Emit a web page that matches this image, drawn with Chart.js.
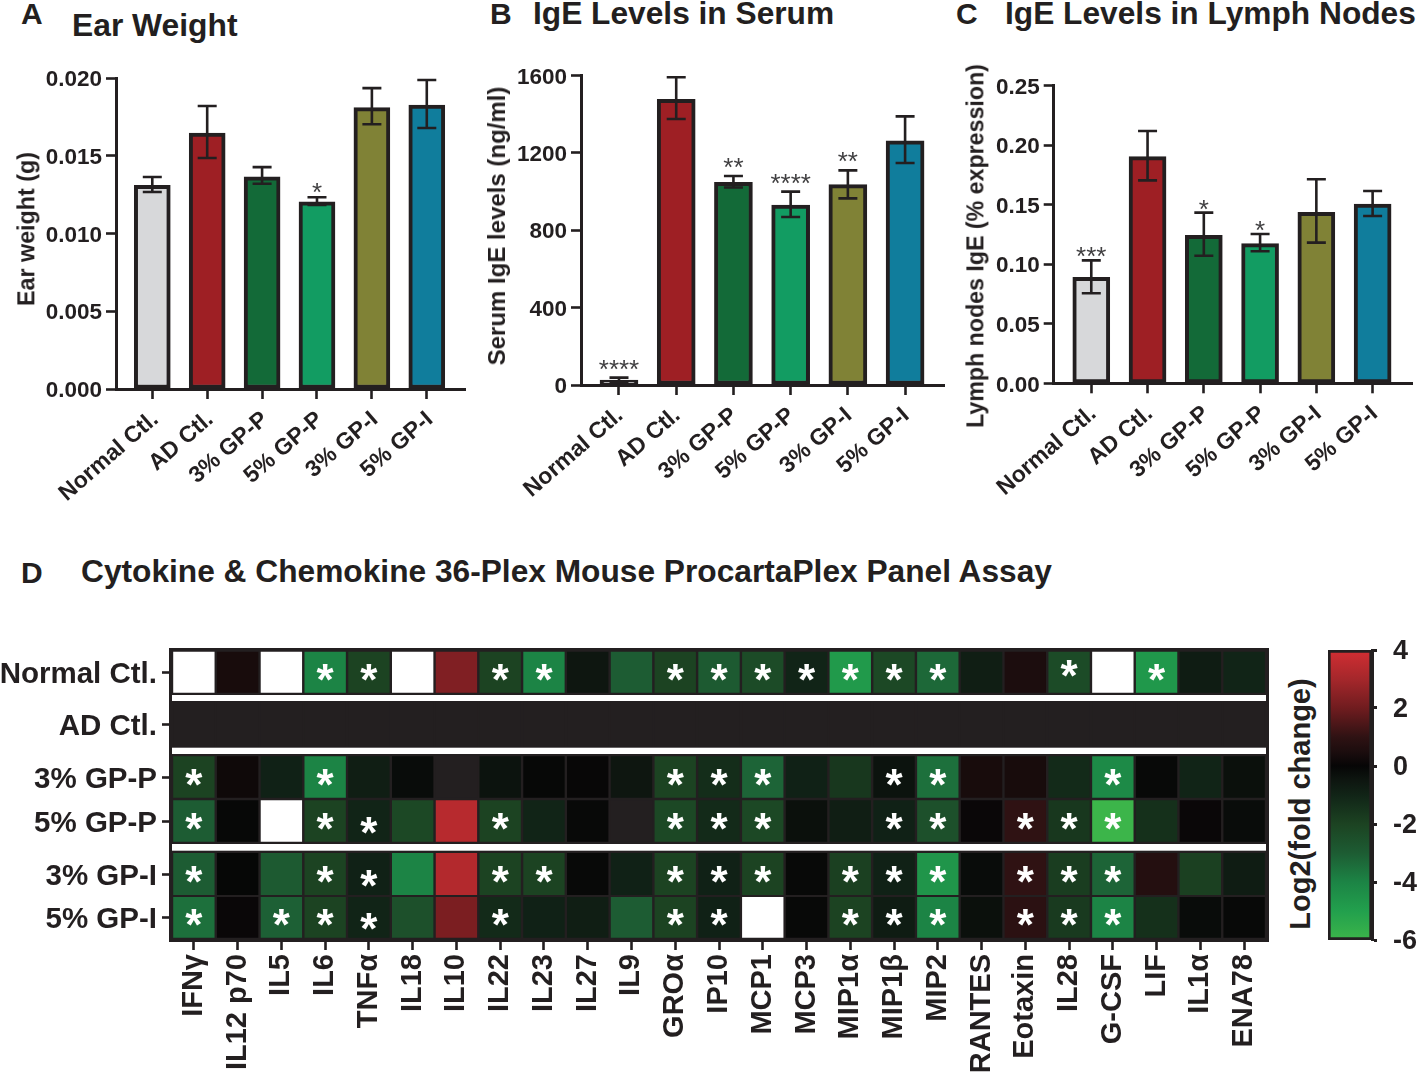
<!DOCTYPE html>
<html>
<head>
<meta charset="utf-8">
<title>Cytokine panel figure</title>
<script src="https://cdn.jsdelivr.net/npm/chart.js@4"></script>
<style>
  html, body { margin: 0; background: #fff; overflow: hidden; }
  #page { position: relative; width: 1417px; height: 1073px; }
  canvas { position: absolute; }
  .txt { position: absolute; white-space: nowrap; color: #231f20; font-family: "Liberation Sans", Arial, sans-serif; font-weight: bold; line-height: 1; }
</style>
</head>
<body>
<div id="page"></div>
<script>
// ---- data ----
const groups = ['Normal Ctl.', 'AD Ctl.', '3% GP-P', '5% GP-P', '3% GP-I', '5% GP-I'];
const barColors = ['#d7d8da', '#9e1f24', '#136a38', '#129c62', '#808236', '#107d9c'];

const earWeight = [0.0131, 0.01646, 0.01365, 0.01204, 0.0181, 0.01826];
const earHigh = [0.01363, 0.0182, 0.01427, 0.01233, 0.01935, 0.01987];
const earLow = [0.01267, 0.01486, 0.0132, 0.01183, 0.01703, 0.01678];
const earSig = ['', '', '', '*', '', ''];
const earTicks = [0, 0.005, 0.01, 0.015, 0.02];

const serum = [26, 1476, 1047, 930, 1035, 1262];
const serumHigh = [38, 1590, 1080, 999, 1109, 1388];
const serumLow = [15, 1374, 1020, 868, 964, 1147];
const serumSig = ['****', '', '**', '****', '**', ''];
const serumTicks = [0, 400, 800, 1200, 1600];

const nodes = [0.089, 0.1904, 0.1243, 0.1173, 0.1436, 0.1506];
const nodesHigh = [0.1033, 0.2119, 0.1434, 0.1254, 0.1714, 0.1616];
const nodesLow = [0.0756, 0.1705, 0.1072, 0.1109, 0.1182, 0.1406];
const nodesSig = ['***', '', '*', '*', '', ''];
const nodesTicks = [0, 0.05, 0.1, 0.15, 0.2, 0.25];

const cytokines = ['IFNγ', 'IL12 p70', 'IL5', 'IL6', 'TNFα', 'IL18', 'IL10', 'IL22', 'IL23', 'IL27', 'IL9', 'GROα', 'IP10',
  'MCP1', 'MCP3', 'MIP1α', 'MIP1β', 'MIP2', 'RANTES', 'Eotaxin', 'IL28', 'G-CSF', 'LIF', 'IL1α', 'ENA78'];

// log2 fold change against AD Ctl., null = white cell
const heatNormal = [null, .4, null, -4, -2, null, 2.3, -2, -4, -.5, -3, -2, -2.9, -2.3, -1, -4.8, -2.2, -3.3, -.8, .5, -2.3, null, -4.7, -.7, -1];
const heatAd = [0, 0, 0, 0, 0, 0, 0, 0, 0, 0, 0, 0, 0, 0, 0, 0, 0, 0, 0, 0, 0, 0, 0, 0, 0];
const heatP3 = [-2, .2, -.9, -4, -.8, -.2, 0, -.4, -.05, .05, -.5, -2, -1.3, -3.2, -.9, -1.6, -.4, -3.5, .4, .4, -1.2, -4.2, -.1, -1, -.3];
const heatP5 = [-3, -.05, null, -2, -1, -2.2, 3.4, -2, -1, -.1, 0, -2.2, -1.2, -2.2, -.3, -.8, -.9, -2.5, .1, 1, -1.6, -6, -1.4, .1, -.2];
const heatI3 = [-3, -.02, -2.9, -2, -.9, -4, 3.3, -2, -2, -.1, -.9, -2, -.9, -2, -.1, -1.9, -.9, -4.6, -.2, 1, -1.8, -3.2, .7, -1.9, -.7];
const heatI5 = [-3.5, .1, -3.1, -2, -1, -2.5, 2.2, -1.2, -.9, -.8, -3, -2, -.9, null, -.1, -2, -.7, -4, -.3, .9, -1.7, -4, -1.4, -.2, -.1];
const heatRows = [heatNormal, heatAd, heatP3, heatP5, heatI3, heatI5];

// columns carrying a significance star, per row
const starNormal = [3, 4, 7, 8, 11, 12, 13, 14, 15, 16, 17, 20, 22];
const starAd = [];
const starP3 = [0, 3, 11, 12, 13, 16, 17, 21];
const starP5 = [0, 3, 4, 7, 11, 12, 13, 16, 17, 19, 20, 21];
const starI3 = [0, 3, 4, 7, 8, 11, 12, 13, 15, 16, 17, 19, 20, 21];
const starI5 = [0, 2, 3, 4, 7, 11, 12, 15, 16, 17, 19, 20, 21];
const starRows = [starNormal, starAd, starP3, starP5, starI3, starI5];

const scaleTicks = [-6, -4, -2, 0, 2, 4];
const colorStops = [[-6, '#3cb54a'], [-5, '#22a04d'], [-4, '#1c8445'], [-3, '#1d5c33'], [-2, '#1c4322'], [-1, '#112417'],
  [-.5, '#0e1610'], [0, '#060606'], [.5, '#1c0d0e'], [1, '#2f1213'], [2, '#701c1f'], [3, '#a5272b'], [4, '#d22e33']];

// ---- helpers ----
const INK = '#231f20';
const FONT = '"Liberation Sans", Arial, sans-serif';
Chart.defaults.font.family = FONT;
Chart.defaults.color = INK;
Chart.defaults.animation = false;
const page = document.getElementById('page');

function addCanvas(left, top, w, h) {
  const c = document.createElement('canvas');
  c.width = w; c.height = h;
  c.style.left = left + 'px'; c.style.top = top + 'px';
  c.style.width = w + 'px'; c.style.height = h + 'px';
  page.appendChild(c);
  return c;
}

// baseline text, for panel letters and titles
function addText(str, x, base, size) {
  const d = document.createElement('div');
  d.className = 'txt';
  d.textContent = str;
  d.style.left = x + 'px';
  d.style.top = (base - size * 0.8465) + 'px';
  d.style.fontSize = size + 'px';
  page.appendChild(d);
}

// rotated text, centred on x,y
function addVertical(str, x, y, size) {
  const d = document.createElement('div');
  d.className = 'txt';
  d.textContent = str;
  d.style.left = x + 'px';
  d.style.top = y + 'px';
  d.style.fontSize = size + 'px';
  d.style.transform = 'translate(-50%,-50%) rotate(-90deg)';
  page.appendChild(d);
}

function hexRgb(h) {
  return [1, 3, 5].map(i => parseInt(h.substr(i, 2), 16));
}

function heatColor(v) {
  if (v === null) return '#ffffff';
  if (v === 0) return INK;
  for (let i = 1; i < colorStops.length; i++) {
    if (v <= colorStops[i][0]) {
      const [a, ca] = colorStops[i - 1], [b, cb] = colorStops[i];
      const t = (v - a) / (b - a), p = hexRgb(ca), q = hexRgb(cb);
      return 'rgb(' + p.map((n, k) => Math.round(n + (q[k] - n) * t)).join(',') + ')';
    }
  }
  return colorStops[colorStops.length - 1][1];
}

// stop chart.js reserving room for half a tick label at the axis ends
function noLabelPadding(s) {
  s.paddingTop = s.paddingBottom = s.paddingLeft = s.paddingRight = 0;
}

// error bars and significance marks, placed with the chart's scales
const errorBars = {
  id: 'errorBars',
  afterDatasetsDraw(chart, args, opts) {
    const { ctx, scales: { x, y } } = chart;
    ctx.save();
    ctx.strokeStyle = INK;
    ctx.lineWidth = 2.6;
    opts.high.forEach((hi, i) => {
      const px = x.getPixelForValue(i), top = y.getPixelForValue(hi), bot = y.getPixelForValue(opts.low[i]);
      ctx.beginPath();
      ctx.moveTo(px, top); ctx.lineTo(px, bot);
      ctx.moveTo(px - 9.5, top); ctx.lineTo(px + 9.5, top);
      ctx.moveTo(px - 9.5, bot); ctx.lineTo(px + 9.5, bot);
      ctx.stroke();
      if (opts.sig[i]) {
        ctx.fillStyle = '#414042';
        ctx.font = '26px ' + FONT;
        ctx.textAlign = 'center';
        ctx.textBaseline = 'alphabetic';
        ctx.fillText(opts.sig[i], px, top - opts.sigGap + 15);
      }
    });
    ctx.restore();
  }
};

function barPanel(cfg) {
  const c = addCanvas(cfg.left, cfg.top, cfg.width, cfg.height);
  return new Chart(c, {
    type: 'bar',
    data: {
      datasets: [{
        data: cfg.values.map((v, i) => ({ x: i, y: v })),
        backgroundColor: barColors,
        borderColor: INK,
        borderWidth: 4,
        borderSkipped: false,
        barThickness: cfg.barWidth
      }]
    },
    options: {
      responsive: false,
      layout: { padding: { top: cfg.padTop, right: cfg.padRight, left: 0, bottom: 0 } },
      plugins: {
        legend: { display: false },
        tooltip: { enabled: false },
        errorBars: { high: cfg.high, low: cfg.low, sig: cfg.sig, sigGap: cfg.sigGap }
      },
      scales: {
        x: {
          type: 'linear',
          offset: false,
          min: cfg.xMin,
          max: cfg.xMax,
          afterBuildTicks: s => { s.ticks = groups.map((g, i) => ({ value: i })); },
          afterFit: s => { noLabelPadding(s); s.height = cfg.xHeight; },
          grid: { offset: false, drawOnChartArea: false, tickLength: 10, tickWidth: 2.6, tickColor: INK },
          border: { color: INK, width: 3 },
          ticks: {
            autoSkip: false, minRotation: 41, maxRotation: 41, padding: 7, labelOffset: cfg.xShift,
            callback: v => groups[v],
            font: { size: 23, weight: 'bold' }
          }
        },
        y: {
          min: cfg.ticks[0],
          max: cfg.ticks[cfg.ticks.length - 1],
          afterBuildTicks: s => { s.ticks = cfg.ticks.map(v => ({ value: v })); },
          afterFit: s => { noLabelPadding(s); s.width = cfg.yWidth; },
          grid: { drawOnChartArea: false, tickLength: 10, tickWidth: 2.6, tickColor: INK },
          border: { color: INK, width: 3 },
          ticks: {
            padding: 4,
            labelOffset: 2,
            callback: v => v.toFixed(cfg.decimals),
            font: { size: 22.5, weight: 'bold' }
          }
        }
      }
    },
    plugins: [errorBars]
  });
}

// ---- panels A, B, C ----
barPanel({ left: 0, top: 60, width: 470, height: 450, yWidth: 116, xHeight: 121, padTop: 18, padRight: 5, xShift: 3,
  xMin: -0.661, xMax: 5.696, barWidth: 36, values: earWeight, high: earHigh, low: earLow, sig: earSig,
  ticks: earTicks, decimals: 3, sigGap: 11 });
barPanel({ left: 475, top: 60, width: 472, height: 450, yWidth: 106, xHeight: 125, padTop: 15.3, padRight: 3, xShift: 1,
  xMin: -0.664, xMax: 5.68, barWidth: 38, values: serum, high: serumHigh, low: serumLow, sig: serumSig,
  ticks: serumTicks, decimals: 0, sigGap: 15 });
barPanel({ left: 950, top: 60, width: 467, height: 450, yWidth: 103.7, xHeight: 126.7, padTop: 25.7, padRight: 5, xShift: 2,
  xMin: -0.668, xMax: 5.70, barWidth: 37, values: nodes, high: nodesHigh, low: nodesLow, sig: nodesSig,
  ticks: nodesTicks, decimals: 2, sigGap: 10 });

addText('A', 21, 24, 30);
addText('Ear Weight', 72, 37, 31.8);
addText('B', 490, 24, 30);
addText('IgE Levels in Serum', 533, 25, 31.7);
addText('C', 956, 24, 30);
addText('IgE Levels in Lymph Nodes', 1005, 25, 31.7);
addText('D', 21, 583, 30);
addText('Cytokine & Chemokine 36-Plex Mouse ProcartaPlex Panel Assay', 81, 583, 31.7);
addVertical('Ear weight (g)', 27, 229, 23.3);
addVertical('Serum IgE levels (ng/ml)', 497, 226, 24);
addVertical('Lymph nodes IgE (% expression)', 976, 246, 23.2);
addVertical('Log2(fold change)', 1300, 804, 29);

// ---- panel D heatmap ----
// vertical layout in chart units (1 unit = 1px of plot height)
const rowBands = [[3.7, 44.7], [53.7, 98.7], [108.3, 149.7], [152.3, 193.7], [205, 247], [249, 289.7]];
const whiteBands = [[47, 53], [99.7, 106], [196, 202.7]];
const rowCentres = rowBands.map(b => (b[0] + b[1]) / 2);

const heatFrame = {
  id: 'heatFrame',
  beforeDatasetsDraw(chart) {
    const { ctx, chartArea: a, scales: { y } } = chart;
    ctx.save();
    ctx.fillStyle = INK;
    ctx.fillRect(a.left - 3, a.top, a.width + 6, a.height + 1);
    ctx.fillStyle = '#fff';
    whiteBands.forEach(b => {
      ctx.fillRect(a.left, y.getPixelForValue(b[0]), a.width, y.getPixelForValue(b[1]) - y.getPixelForValue(b[0]));
    });
    ctx.restore();
  },
  afterDatasetsDraw(chart) {
    const { ctx, scales: { x, y } } = chart;
    ctx.save();
    ctx.fillStyle = '#fff';
    ctx.font = 'bold 44px ' + FONT;
    ctx.textAlign = 'center';
    ctx.textBaseline = 'alphabetic';
    starRows.forEach((cols, r) => {
      cols.forEach(col => {
        // the TNFα stars sit a little low and the Normal IL28 one a little high in the figure
        let dy = 23;
        if (col === 4 && r >= 3) dy = 27;
        if (col === 20 && r === 0) dy = 19;
        ctx.fillText('*', x.getPixelForValue(col), y.getPixelForValue(rowCentres[r]) + dy);
      });
    });
    ctx.restore();
  }
};

new Chart(addCanvas(0, 640, 1290, 433), {
  type: 'bar',
  data: {
    labels: cytokines,
    datasets: heatRows.map((row, r) => ({
      data: row.map(() => rowBands[r]),
      backgroundColor: row.map(heatColor),
      borderWidth: 0,
      grouped: false,
      barPercentage: 0.945,
      categoryPercentage: 1
    }))
  },
  options: {
    responsive: false,
    layout: { padding: { top: 8, right: 24, left: 0, bottom: 0 } },
    plugins: { legend: { display: false }, tooltip: { enabled: false } },
    scales: {
      x: {
        afterFit: s => { noLabelPadding(s); s.height = 132; },
        grid: { offset: false, drawOnChartArea: false, tickLength: 9, tickWidth: 2.6, tickColor: INK },
        border: { display: false },
        ticks: { autoSkip: false, minRotation: 90, maxRotation: 90, padding: 4, font: { size: 29, weight: 'bold' } }
      },
      y: {
        reverse: true,
        min: 0,
        max: 293,
        afterBuildTicks: s => { s.ticks = rowCentres.map(v => ({ value: v })); },
        afterFit: s => { noLabelPadding(s); s.width = 172; },
        grid: { drawOnChartArea: false, tickLength: 10, tickWidth: 2.6, tickColor: INK },
        border: { display: false },
        ticks: {
          padding: 5,
          labelOffset: 3,
          callback: (v, i) => groups[i],
          font: { size: 29.5, weight: 'bold' }
        }
      }
    }
  },
  plugins: [heatFrame]
});

// ---- colour scale ----
new Chart(addCanvas(1310, 630, 107, 330), {
  type: 'bar',
  data: {
    labels: ['scale'],
    datasets: [{
      data: [[scaleTicks[0], scaleTicks[scaleTicks.length - 1]]],
      backgroundColor: ctx => {
        const { chart } = ctx;
        if (!chart.chartArea) return '#000';
        const y = chart.scales.y;
        const top = y.getPixelForValue(4), bot = y.getPixelForValue(-6);
        const g = chart.ctx.createLinearGradient(0, bot, 0, top);
        colorStops.forEach(s => g.addColorStop((s[0] + 6) / 10, s[1]));
        return g;
      },
      borderColor: INK,
      borderWidth: 3,
      borderSkipped: false,
      barPercentage: 1,
      categoryPercentage: 1
    }]
  },
  options: {
    responsive: false,
    layout: { padding: { top: 20, bottom: 20, left: 18, right: 0 } },
    plugins: { legend: { display: false }, tooltip: { enabled: false } },
    scales: {
      x: { display: false },
      y: {
        position: 'right',
        min: -6,
        max: 4,
        afterBuildTicks: s => { s.ticks = scaleTicks.map(v => ({ value: v })); },
        afterFit: s => { noLabelPadding(s); s.width = 45; },
        grid: { drawOnChartArea: false, tickLength: 5, tickWidth: 3, tickColor: INK },
        border: { color: INK, width: 3 },
        ticks: { padding: 16, labelOffset: 2, font: { size: 27, weight: 'bold' } }
      }
    }
  }
});
</script>
</body>
</html>
